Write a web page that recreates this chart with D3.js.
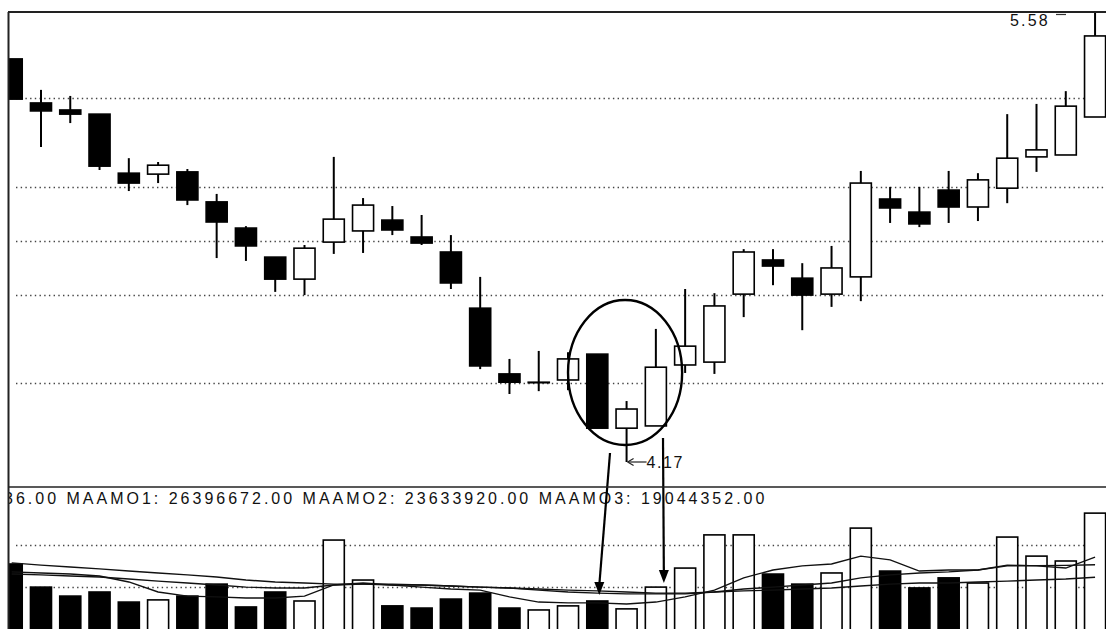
<!DOCTYPE html>
<html>
<head>
<meta charset="utf-8">
<script src="https://cdn.jsdelivr.net/npm/d3@7"></script>
<style>
    html, body { margin: 0; padding: 0; background: #fff; }
    svg { display: block; }
    .lbl { font-family: "Liberation Sans", Arial, sans-serif; fill: #111; }
</style>
</head>
<body>
<svg id="chart"></svg>
<script>
// data begin ----------------------------------
const open  = [5.433, 5.295, 5.273, 5.260, 5.075, 5.072, 5.079, 4.985, 4.903, 4.812, 4.743, 4.859, 4.894, 4.928, 4.875, 4.828, 4.652, 4.446, 4.420, 4.427,
               4.508, 4.276, 4.283, 4.474, 4.483, 4.696, 4.803, 4.746, 4.696, 4.750, 4.994, 4.953, 5.022, 4.969, 5.028, 5.126, 5.132, 5.251];
const high  = [5.433, 5.336, 5.317, 5.260, 5.122, 5.110, 5.088, 5.010, 4.909, 4.812, 4.850, 5.126, 4.997, 4.972, 4.944, 4.881, 4.750, 4.493, 4.518, 4.514,
               4.508, 4.361, 4.587, 4.712, 4.699, 4.837, 4.837, 4.793, 4.847, 5.082, 5.032, 5.032, 5.082, 5.075, 5.260, 5.292, 5.332, 5.58];
const low   = [5.307, 5.157, 5.232, 5.085, 5.019, 5.044, 4.975, 4.809, 4.800, 4.703, 4.693, 4.822, 4.825, 4.881, 4.850, 4.712, 4.461, 4.383, 4.392, 4.395,
               4.276, 4.17, 4.283, 4.449, 4.446, 4.624, 4.724, 4.583, 4.656, 4.674, 4.919, 4.906, 4.919, 4.925, 4.981, 5.079, 5.132, 5.251];
const close = [5.307, 5.270, 5.260, 5.097, 5.044, 5.100, 4.991, 4.922, 4.847, 4.743, 4.840, 4.931, 4.975, 4.897, 4.856, 4.731, 4.471, 4.420, 4.420, 4.493,
               4.276, 4.336, 4.467, 4.533, 4.659, 4.828, 4.784, 4.693, 4.778, 5.044, 4.966, 4.916, 4.969, 5.054, 5.122, 5.148, 5.285, 5.505];
// amount, millions
const amount = [23.9, 15.4, 12.1, 13.6, 9.9, 10.7, 12.1, 16.5, 8.1, 13.6, 10.3, 32.7, 18.0, 8.5, 7.7, 11.0, 13.2, 7.7, 7.0, 8.5,
                10.3, 7.4, 15.4, 22.4, 34.6, 34.6, 20.2, 16.5, 20.6, 37.1, 21.3, 15.1, 18.8, 16.9, 33.8, 26.8, 25.0, 42.6];
const maamo1 = [21.0, 20.6, 20.2, 19.5, 17.3, 13.6, 12.1, 11.8, 11.4, 11.4, 12.1, 16.2, 16.9, 16.2, 15.4, 14.7, 14.3, 11.8, 9.9, 9.6,
                9.6, 9.2, 9.9, 11.8, 14.3, 18.8, 21.7, 23.2, 23.9, 26.8, 25.4, 21.3, 21.7, 21.7, 23.5, 23.2, 22.4, 26.4];
const maamo2 = [20.2, 19.9, 19.5, 19.1, 18.4, 17.6, 16.9, 16.2, 15.4, 15.1, 15.1, 16.2, 16.5, 16.5, 16.2, 15.8, 15.4, 15.1, 14.3, 13.6,
                13.2, 12.9, 12.9, 12.9, 13.6, 14.7, 15.4, 16.2, 16.9, 18.8, 19.9, 20.6, 21.0, 21.7, 23.2, 23.3, 23.4, 23.6];
const maamo3 = [24.3, 23.5, 22.8, 22.1, 21.3, 20.6, 19.9, 19.1, 18.0, 17.3, 16.9, 16.5, 16.5, 16.2, 16.2, 15.8, 15.4, 15.1, 14.7, 14.3,
                14.0, 13.6, 13.2, 13.2, 13.6, 14.0, 14.3, 14.7, 15.1, 15.8, 16.5, 16.9, 16.9, 17.3, 17.6, 18.0, 18.4, 19.04];
const priceGrid = [5.31, 5.032, 4.862, 4.693, 4.417];
const amountGrid = [15.4, 30.9];
const infoText = '36.00 MAAMO1: 26396672.00 MAAMO2: 23633920.00 MAAMO3: 19044352.00';
const highLabel = '5.58';
const lowLabel = '4.17';
const circled = [20, 22];     // candles inside the ellipse (0-based)
const arrowBars = [20, 22];   // volume bars pointed at
// data end ----------------------------------

const W = 1106, H = 629;
const padL = 9, padT = 12, split = 487;

const svg = d3.select('#chart').attr('width', W).attr('height', H);
const defs = svg.append('defs');
defs.append('clipPath').attr('id', 'clipPrice')
    .append('rect').attr('x', padL).attr('y', padT).attr('width', W - padL).attr('height', split - padT);
defs.append('clipPath').attr('id', 'clipVol')
    .append('rect').attr('x', padL).attr('y', split).attr('width', W - padL).attr('height', H - split);

const n = open.length;
const x = d3.scaleBand().domain(d3.range(n)).range([-2.94, 1109.7]).paddingInner(0.23).paddingOuter(0.115);
const cx = i => x(i) + x.bandwidth() / 2;
const y = d3.scaleLinear().domain([4.17, 5.58]).range([462, 12]);
const yv = d3.scaleLinear().domain([0, 45]).range([629, 629 - 45 * 2.72]);

const up = i => close[i] >= open[i];

// price pane ---------------------------------
const pricePane = svg.append('g').attr('clip-path', 'url(#clipPrice)');
pricePane.append('g').selectAll('line').data(priceGrid).join('line')
    .attr('x1', 16).attr('x2', W).attr('y1', d => Math.round(y(d)) + 0.5).attr('y2', d => Math.round(y(d)) + 0.5)
    .attr('stroke', '#444').attr('stroke-width', 1.3).attr('stroke-dasharray', '1.4 3.3');

const candles = pricePane.append('g').selectAll('g').data(d3.range(n)).join('g');
candles.append('line')
    .attr('x1', cx).attr('x2', cx)
    .attr('y1', i => y(high[i])).attr('y2', i => y(low[i]))
    .attr('stroke', '#000').attr('stroke-width', 2);
candles.append('rect')
    .attr('x', i => x(i) + 0.75)
    .attr('width', x.bandwidth() - 1.5)
    .attr('y', i => y(Math.max(open[i], close[i])))
    .attr('height', i => Math.max(0.5, Math.abs(y(open[i]) - y(close[i]))))
    .attr('fill', i => up(i) ? '#fff' : '#000')
    .attr('stroke', '#000').attr('stroke-width', 1.6);

// high / low markers
const hiIdx = d3.maxIndex(high), loIdx = d3.minIndex(low);
pricePane.append('line')
    .attr('x1', 1056).attr('x2', 1066).attr('y1', 14.5).attr('y2', 14.5)
    .attr('stroke', '#333').attr('stroke-width', 1.2);
pricePane.append('text').attr('class', 'lbl')
    .attr('x', 1010).attr('y', 26).style('font-size', '16px').style('letter-spacing', '2.2px')
    .text(highLabel);

const lowY = y(low[loIdx]);
pricePane.append('line')
    .attr('x1', cx(loIdx) + 1).attr('x2', cx(loIdx) + 20).attr('y1', lowY).attr('y2', lowY)
    .attr('stroke', '#222').attr('stroke-width', 1.2);
pricePane.append('path')
    .attr('d', `M${cx(loIdx) + 1},${lowY} l6,-3.5 M${cx(loIdx) + 1},${lowY} l6,3.5`)
    .attr('stroke', '#222').attr('stroke-width', 1.2).attr('fill', 'none');
pricePane.append('text').attr('class', 'lbl')
    .attr('x', cx(loIdx) + 20).attr('y', lowY + 6).style('font-size', '16px').style('letter-spacing', '1.6px')
    .text(lowLabel);

// ellipse around the reversal
const exMin = x(circled[0]) - 18, exMax = x(circled[1]) + x.bandwidth() + 15;
pricePane.append('ellipse')
    .attr('cx', (exMin + exMax) / 2).attr('cy', 372.5)
    .attr('rx', (exMax - exMin) / 2).attr('ry', 72.5)
    .attr('fill', 'none').attr('stroke', '#000').attr('stroke-width', 2.4);

// volume pane --------------------------------
const volPane = svg.append('g').attr('clip-path', 'url(#clipVol)');
volPane.append('g').selectAll('line').data(amountGrid).join('line')
    .attr('x1', 16).attr('x2', W).attr('y1', d => Math.round(yv(d)) + 0.5).attr('y2', d => Math.round(yv(d)) + 0.5)
    .attr('stroke', '#444').attr('stroke-width', 1.3).attr('stroke-dasharray', '1.4 3.3');

volPane.append('g').selectAll('rect').data(d3.range(n)).join('rect')
    .attr('x', i => x(i) + 0.75)
    .attr('width', x.bandwidth() - 1.5)
    .attr('y', i => yv(amount[i]))
    .attr('height', i => yv(0) - yv(amount[i]) + 4)
    .attr('fill', i => up(i) ? '#fff' : '#000')
    .attr('stroke', '#000').attr('stroke-width', 1.6);

const maLine = d3.line().x((d, i) => cx(i)).y(d => yv(d));
[maamo1, maamo2, maamo3].forEach(s => {
    volPane.append('path').datum(s).attr('d', maLine)
        .attr('fill', 'none').attr('stroke', '#111').attr('stroke-width', 1.4);
});

volPane.append('text').attr('class', 'lbl')
    .attr('x', 4).attr('y', 504).style('font-size', '16px').style('letter-spacing', '3px')
    .text(infoText);

// arrows from the circle down to the volume bars
const arrows = [
    { from: [610, 453], bar: arrowBars[0], dx: 2, gap: 6 },
    { from: [663, 438], bar: arrowBars[1], dx: 8, gap: 4 }
];
arrows.forEach(a => {
    const tx = cx(a.bar) + a.dx, ty = yv(amount[a.bar]) - a.gap;
    svg.append('line')
        .attr('x1', a.from[0]).attr('y1', a.from[1]).attr('x2', tx).attr('y2', ty - 10)
        .attr('stroke', '#000').attr('stroke-width', 2.2);
    svg.append('path')
        .attr('d', `M${tx},${ty} L${tx - 5},${ty - 13} L${tx + 5},${ty - 13} Z`)
        .attr('fill', '#000');
});

// frame ---------------------------------------
svg.append('line').attr('x1', padL - 1).attr('x2', W).attr('y1', padT).attr('y2', padT)
    .attr('stroke', '#222').attr('stroke-width', 2);
svg.append('line').attr('x1', padL - 1).attr('x2', W).attr('y1', split).attr('y2', split)
    .attr('stroke', '#222').attr('stroke-width', 1.6);
svg.append('line').attr('x1', padL - 0.5).attr('x2', padL - 0.5).attr('y1', padT).attr('y2', H)
    .attr('stroke', '#222').attr('stroke-width', 2);
</script>
</body>
</html>
